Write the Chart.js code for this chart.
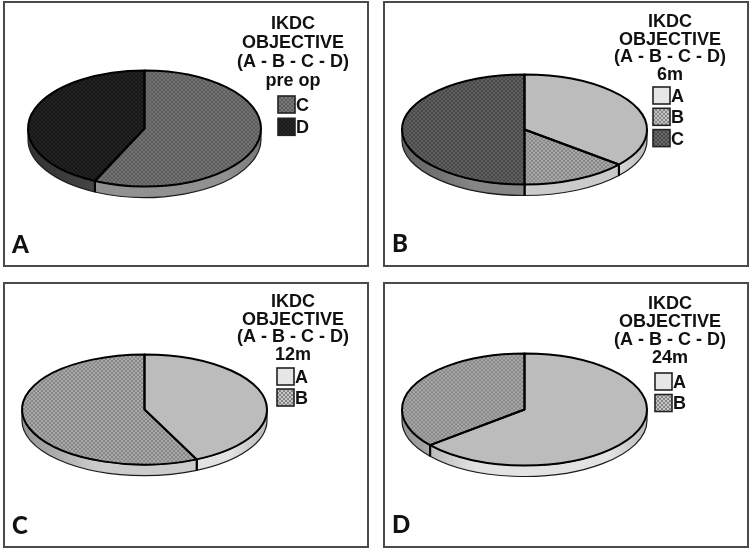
<!DOCTYPE html>
<html>
<head>
<meta charset="utf-8">
<title>IKDC objective</title>
<script src="https://cdn.jsdelivr.net/npm/chart.js@4/dist/chart.umd.min.js"></script>
<style>
  html, body { margin: 0; padding: 0; background: #fff; }
  canvas { position: absolute; filter: blur(0.35px); }
</style>
</head>
<body>
<canvas id="chart_a"></canvas>
<canvas id="chart_b"></canvas>
<canvas id="chart_c"></canvas>
<canvas id="chart_d"></canvas>
<script>
// values (percent of the pie)
var categories_a = ['C', 'D'];
var values_a = [57, 43];
var categories_b = ['A', 'B', 'C'];
var values_b = [36, 14, 50];
var categories_c = ['A', 'B'];
var values_c = [43, 57];
var categories_d = ['A', 'B'];
var values_d = [64, 36];

var heading_lines = ['IKDC', 'OBJECTIVE', '(A - B - C - D)'];

// top = pie face, dot = texture colour, side = rim, key = legend box
var looks = {
  A: { top: '#bcbcbc', dot: '#bcbcbc', side: '#e2e2e2', key: '#e6e6e6' },
  B: { top: '#ababab', dot: '#858585', side: '#cbcbcb', key: '#c6c6c6' },
  C: { top: '#6a6a6a', dot: '#484848', side: '#8c8c8c', key: '#757575' },
  D: { top: '#141414', dot: '#262626', side: '#454545', key: '#1a1a1a' }
};

// sizes in px, relative to each panel
var panels = [
  { id: 'chart_a', letter: 'A', when: 'pre op', labels: categories_a, values: values_a,
    left: 3, top: 1, padL: 25, padR: 108, padT: 11, padB: 22, squash: 0.498,
    headX: 290, headY: 23, headGap: 19, keyX: 275, keyY: 95, keyGap: 22.3,
    letterY: 252, looks: { C: { top: '#747474', dot: '#5c5c5c', side: '#919191', key: '#7c7c7c' } } },
  { id: 'chart_b', letter: 'B', when: '6m', labels: categories_b, values: values_b,
    left: 383, top: 1, padL: 19, padR: 102, padT: 6, padB: 15, squash: 0.449,
    headX: 287, headY: 21, headGap: 17.6, keyX: 270, keyY: 86, keyGap: 21.3,
    letterY: 251, looks: { C: { top: '#606060', dot: '#484848', side: '#868686', key: '#6a6a6a' } } },
  { id: 'chart_c', letter: 'C', when: '12m', labels: categories_c, values: values_c,
    left: 3, top: 282, padL: 19, padR: 102, padT: 5, padB: 16, squash: 0.45,
    headX: 290, headY: 20, headGap: 17.6, keyX: 274, keyY: 86, keyGap: 21,
    letterY: 252, looks: {} },
  { id: 'chart_d', letter: 'D', when: '24m', labels: categories_d, values: values_d,
    left: 383, top: 282, padL: 19, padR: 102, padT: 5, padB: 16, squash: 0.457,
    headX: 287, headY: 22, headGap: 18, keyX: 272, keyY: 91, keyGap: 21.5,
    letterY: 251, looks: {} }
];
var panel_w = 366;
var panel_h = 266;
var rim = 11;

function lookOf(panel, name) {
  return panel.looks[name] || looks[name];
}

// fine checker like the dotted fills in the figure
function texture(ctx, look, squash) {
  var tile = document.createElement('canvas');
  tile.width = 4;
  tile.height = 4;
  var t = tile.getContext('2d');
  t.fillStyle = look.top;
  t.fillRect(0, 0, 4, 4);
  t.fillStyle = look.dot;
  t.fillRect(0, 0, 2, 2);
  t.fillRect(2, 2, 2, 2);
  var pattern = ctx.createPattern(tile, 'repeat');
  if (squash) pattern.setTransform(new DOMMatrix().scale(1, 1 / squash));
  return pattern;
}

var pie3d = {
  id: 'pie3d',
  beforeDraw: function(chart) {
    var ctx = chart.ctx;
    ctx.save();
    ctx.fillStyle = '#fff';
    ctx.fillRect(0, 0, panel_w, panel_h);
    ctx.strokeStyle = '#4a4a4a';
    ctx.lineWidth = 2;
    ctx.strokeRect(1, 1, panel_w - 2, panel_h - 2);
    ctx.restore();
  },
  beforeDatasetsDraw: function(chart, args, opts) {
    var ctx = chart.ctx;
    var panel = opts.panel;
    var arcs = chart.getDatasetMeta(0).data;
    var first = arcs[0];

    ctx.save();
    arcs.forEach(function(el, i) {
      var a0 = Math.max(el.startAngle, 0);
      var a1 = Math.min(el.endAngle, Math.PI);
      if (a1 <= a0) return;
      var r = el.outerRadius;
      var ry = r * panel.squash;
      ctx.beginPath();
      ctx.ellipse(el.x, el.y, r, ry, 0, a0, a1);
      ctx.ellipse(el.x, el.y + rim, r, ry, 0, a1, a0, true);
      ctx.closePath();
      ctx.fillStyle = lookOf(panel, panel.labels[i]).side;
      ctx.fill();
      // rim gets darker towards both ends
      var g = ctx.createLinearGradient(el.x - r, 0, el.x + r, 0);
      g.addColorStop(0, 'rgba(0,0,0,0.28)');
      g.addColorStop(0.3, 'rgba(0,0,0,0)');
      g.addColorStop(0.85, 'rgba(0,0,0,0)');
      g.addColorStop(1, 'rgba(0,0,0,0.18)');
      ctx.fillStyle = g;
      ctx.fill();
      ctx.strokeStyle = '#1c1c1c';
      ctx.lineWidth = 1.2;
      ctx.stroke();
      // heavy edge where two slices meet on the rim
      [el.startAngle, el.endAngle].forEach(function(a) {
        if (a <= 0.02 || a >= Math.PI - 0.02) return;
        var x = el.x + r * Math.cos(a);
        var y = el.y + ry * Math.sin(a);
        ctx.beginPath();
        ctx.moveTo(x, y);
        ctx.lineTo(x, y + rim);
        ctx.strokeStyle = '#000';
        ctx.lineWidth = 2;
        ctx.stroke();
      });
    });
    ctx.restore();

    // squash the round pie into the flat ellipse
    ctx.save();
    ctx.translate(0, first.y);
    ctx.scale(1, panel.squash);
    ctx.translate(0, -first.y);
  },
  afterDatasetsDraw: function(chart, args, opts) {
    var ctx = chart.ctx;
    var panel = opts.panel;
    ctx.restore();

    // outlines go on after the restore so the pen is not flattened
    ctx.save();
    ctx.strokeStyle = '#000';
    ctx.lineWidth = 2;
    ctx.lineJoin = 'round';
    chart.getDatasetMeta(0).data.forEach(function(el) {
      ctx.beginPath();
      ctx.ellipse(el.x, el.y, el.outerRadius, el.outerRadius * panel.squash, 0, el.startAngle, el.endAngle);
      ctx.lineTo(el.x, el.y);
      ctx.closePath();
      ctx.stroke();
    });
    ctx.restore();

    drawText(ctx, panel);
  }
};

function drawText(ctx, panel) {
  var lines = heading_lines.concat(panel.when);
  ctx.save();
  ctx.fillStyle = '#111';
  ctx.textAlign = 'center';
  ctx.textBaseline = 'middle';
  ctx.font = 'bold 18px "Liberation Sans"';
  lines.forEach(function(line, i) {
    ctx.fillText(line, panel.headX, panel.headY + i * panel.headGap);
  });

  // legend
  ctx.textAlign = 'left';
  panel.labels.forEach(function(name, i) {
    var y = panel.keyY + i * panel.keyGap;
    var look = lookOf(panel, name);
    ctx.fillStyle = name === 'A' ? look.key : texture(ctx, { top: look.key, dot: look.dot });
    ctx.fillRect(panel.keyX, y, 17, 17);
    ctx.strokeStyle = '#222';
    ctx.lineWidth = 1.6;
    ctx.strokeRect(panel.keyX, y, 17, 17);
    ctx.fillStyle = '#111';
    ctx.fillText(name, panel.keyX + 18, y + 10);
  });

  ctx.font = '900 24px Lato';
  ctx.textBaseline = 'alphabetic';
  ctx.fillText(panel.letter, 9, panel.letterY);
  ctx.restore();
}

panels.forEach(function(panel) {
  var node = document.getElementById(panel.id);
  node.width = panel_w;
  node.height = panel_h;
  node.style.left = panel.left + 'px';
  node.style.top = panel.top + 'px';
  var ctx = node.getContext('2d');

  new Chart(node, {
    type: 'pie',
    data: {
      labels: panel.labels,
      datasets: [{
        data: panel.values,
        borderWidth: 0,
        backgroundColor: panel.labels.map(function(name) {
          return name === 'A' ? lookOf(panel, name).top : texture(ctx, lookOf(panel, name), panel.squash);
        })
      }]
    },
    options: {
      responsive: false,
      animation: false,
      events: [],
      layout: { padding: { left: panel.padL, right: panel.padR, top: panel.padT, bottom: panel.padB } },
      plugins: {
        legend: { display: false },
        tooltip: { enabled: false },
        pie3d: { panel: panel }
      }
    },
    plugins: [pie3d]
  });
});
</script>
</body>
</html>
